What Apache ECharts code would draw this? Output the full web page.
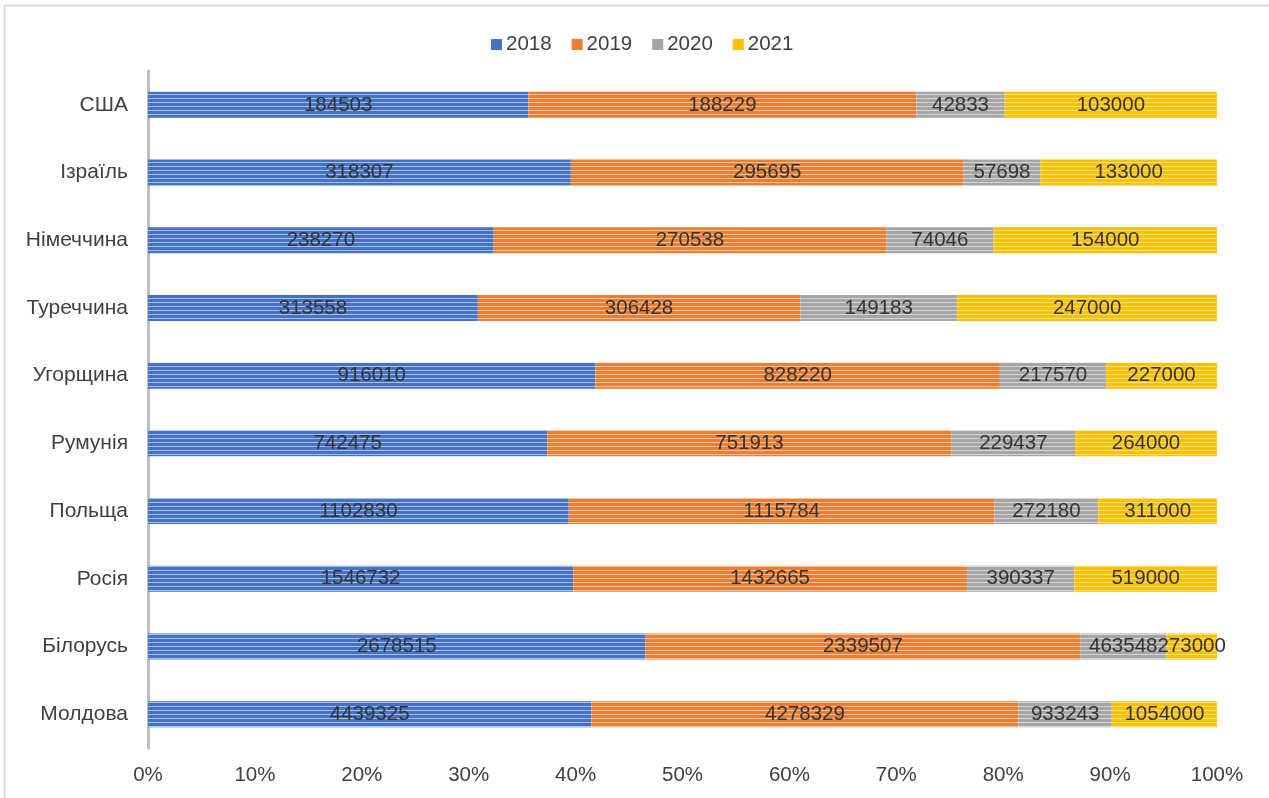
<!DOCTYPE html>
<html><head><meta charset="utf-8">
<script src="https://cdn.jsdelivr.net/npm/echarts@6/dist/echarts.min.js"></script>
<style>html,body{margin:0;padding:0;background:#fff}#c{width:1269px;height:798px}</style>
</head><body><div id="c"></div>
<script>
const categories = ['Молдова','Білорусь','Росія','Польща','Румунія','Угорщина','Туреччина','Німеччина','Ізраїль','США'];
const years = ['2018','2019','2020','2021'];
const v2018 = [4439325, 2678515, 1546732, 1102830, 742475, 916010, 313558, 238270, 318307, 184503];
const v2019 = [4278329, 2339507, 1432665, 1115784, 751913, 828220, 306428, 270538, 295695, 188229];
const v2020 = [933243, 463548, 390337, 272180, 229437, 217570, 149183, 74046, 57698, 42833];
const v2021 = [1054000, 273000, 519000, 311000, 264000, 227000, 247000, 154000, 133000, 103000];
const xTicks = ['0%','10%','20%','30%','40%','50%','60%','70%','80%','90%','100%'];

const raw = [v2018, v2019, v2020, v2021];
const colors = ['#4472C4', '#ED7D31', '#A5A5A5', '#FFC000'];
const lights = ['#A9BEE6', '#F6C3A0', '#D6D6D6', '#FFE08A'];

function pattern(c, l) {
  const cv = document.createElement('canvas');
  cv.width = 4; cv.height = 4;
  const ctx = cv.getContext('2d');
  ctx.fillStyle = c; ctx.fillRect(0, 0, 4, 4);
  ctx.fillStyle = l; ctx.fillRect(0, 2, 4, 1);
  return {image: cv, repeat: 'repeat'};
}

const FONT = 'Liberation Sans, Arial, sans-serif';
const totals = categories.map((_, i) => raw.reduce((s, a) => s + a[i], 0));
const series = years.map((y, k) => ({
  name: y,
  type: 'bar',
  stack: 'total',
  barWidth: 26,
  data: raw[k].map((v, i) => ({value: v / totals[i] * 100, raw: v})),
  itemStyle: {color: pattern(colors[k], lights[k])},
  label: {
    show: true, position: 'inside', color: '#333333', fontSize: 20.5,
    fontFamily: FONT,
    formatter: p => String(p.data.raw)
  },
  emphasis: {disabled: true}
}));

const chart = echarts.init(document.getElementById('c'), null, {renderer: 'canvas'});
chart.setOption({
  animation: false,
  backgroundColor: '#fff',
  textStyle: {fontFamily: FONT},
  color: colors,
  legend: {
    top: 29, left: 486,
    itemWidth: 11, itemHeight: 11, itemGap: 20,
    textStyle: {fontSize: 20.5, color: '#404040', padding: [0, 0, 0, -1], fontFamily: FONT},
    data: years.map((y, k) => ({name: y, icon: 'rect', itemStyle: {color: colors[k]}}))
  },
  grid: {left: 148, right: 52, top: 71, height: 677},
  xAxis: {
    type: 'value', min: 0, max: 100, interval: 10,
    axisLine: {show: false}, axisTick: {show: false}, splitLine: {show: false},
    axisLabel: {fontSize: 20.5, color: '#404040', margin: 17, fontFamily: FONT,
      formatter: v => xTicks[Math.round(v / 10)]}
  },
  yAxis: {
    type: 'category', data: categories,
    axisLine: {show: true, lineStyle: {color: '#BFBFBF', width: 3}},
    axisTick: {show: false},
    axisLabel: {fontSize: 21, color: '#404040', margin: 20, fontFamily: FONT}
  },
  graphic: [{
    type: 'rect', silent: true,
    shape: {x: 4.5, y: 5.5, width: 1300, height: 900},
    style: {fill: 'none', stroke: '#D9D9D9', lineWidth: 2}
  }],
  series: series
});
</script></body></html>
